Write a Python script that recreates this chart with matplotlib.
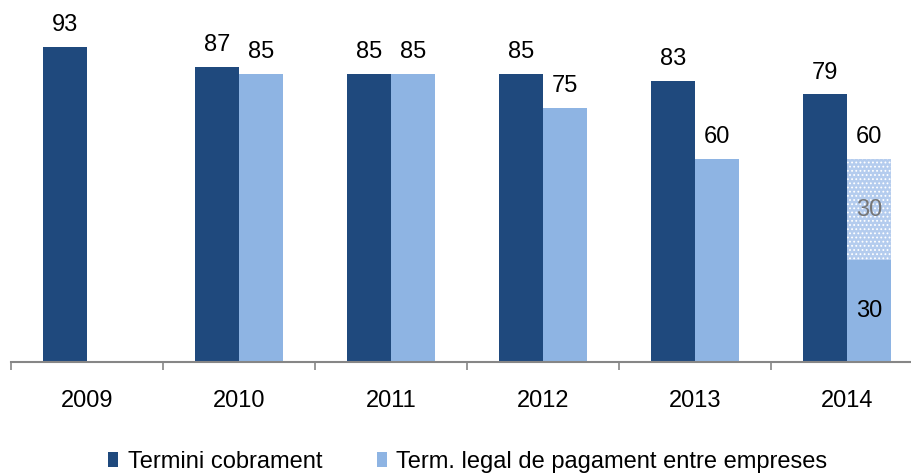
import matplotlib
matplotlib.use("Agg")
import matplotlib.pyplot as plt
from matplotlib.patches import Patch
import numpy as np

plt.rcParams['font.family'] = ['Liberation Sans', 'DejaVu Sans']
plt.rcParams['hatch.linewidth'] = 0.8

years = ["2009", "2010", "2011", "2012", "2013", "2014"]
termini = [93, 87, 85, 85, 83, 79]
legal = [None, 85, 85, 75, 60, 30]
legal_extra = [0, 0, 0, 0, 0, 30]   # 2014 pending segment

dark = "#1F497D"
light = "#8EB4E3"
FS = 17

fig = plt.figure(figsize=(9.11, 4.75), dpi=100)
ax = fig.add_axes([11/911, 113/475, 912/911, 338.7/475])

x = np.arange(len(years))
w = 0.29
off = 4.7
for i in range(len(years)):
    ax.bar(x[i] - w/2, termini[i], w, color=dark, linewidth=0)
    ax.text(x[i] - w/2, termini[i] + off, str(termini[i]), ha='center', va='baseline', fontsize=FS)
    if legal[i] is not None:
        ax.bar(x[i] + w/2, legal[i], w, color=light, linewidth=0)
        if legal_extra[i] > 0:
            ax.bar(x[i] + w/2, legal_extra[i], w, bottom=legal[i], color="#B4CCEE",
                   hatch='....', edgecolor='white', linewidth=0)
            ax.text(x[i] + w/2, legal[i] / 2, str(legal[i]), ha='center', va='center', fontsize=FS)
            ax.text(x[i] + w/2, legal[i] + legal_extra[i] / 2, str(legal_extra[i]),
                    ha='center', va='center', fontsize=FS, color='#777777')
            total = legal[i] + legal_extra[i]
            ax.text(x[i] + w/2, total + off, str(total), ha='center', va='baseline', fontsize=FS)
        else:
            ax.text(x[i] + w/2, legal[i] + off, str(legal[i]), ha='center', va='baseline', fontsize=FS)

ax.set_xlim(-0.5, len(years) - 0.5)
ax.set_ylim(0, 100)
for s in ['top', 'right', 'left']:
    ax.spines[s].set_visible(False)
ax.spines['bottom'].set_color('#868686')
ax.spines['bottom'].set_linewidth(1.5)
ax.set_yticks([])
ax.set_xticks(np.arange(-0.5, len(years), 1.0))
ax.set_xticklabels([])
ax.tick_params(axis='x', direction='out', length=6, color='#868686', width=1.2)
ax.set_xticks(x, minor=True)
ax.set_xticklabels(years, minor=True, fontsize=FS)
ax.tick_params(axis='x', which='minor', length=0, pad=20)

handles = [Patch(facecolor=dark, label="Termini cobrament"),
           Patch(facecolor=light, label="Term. legal de pagament entre empreses")]
fig.legend(handles=handles, loc='center left', bbox_to_anchor=(108/911, 1 - 462/475), ncol=2,
           frameon=False, borderpad=0, borderaxespad=0,
           fontsize=FS, handlelength=0.42, handleheight=0.6, handletextpad=0.42, columnspacing=2.3)

fig.savefig("out.png", dpi=100)
